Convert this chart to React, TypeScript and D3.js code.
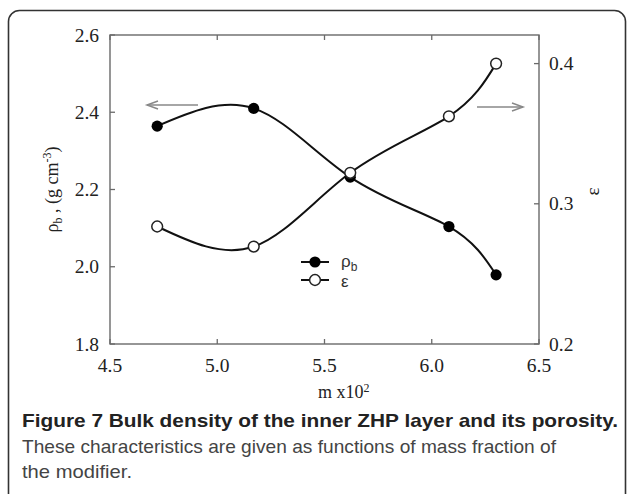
import React from "react";
import * as d3 from "d3";

const massFraction = [4.72, 5.17, 5.62, 6.08, 6.30];
const bulkDensity = [2.364, 2.41, 2.232, 2.104, 1.979];
const porosity = [0.2838, 0.2695, 0.3221, 0.3624, 0.4];
const xTicks = [4.5, 5.0, 5.5, 6.0, 6.5];
const yLeftTicks = [1.8, 2.0, 2.2, 2.4, 2.6];
const yRightTicks = [0.2, 0.3, 0.4];

const W = 629, H = 494;
const L = 110, R = 539, T = 35, B = 344;

export default function App() {
  const x = d3.scaleLinear().domain([4.5, 6.5]).range([L, R]);
  const yL = d3.scaleLinear().domain([1.8, 2.6]).range([B, T]);
  const yR = d3.scaleLinear().domain([0.2, 0.4204]).range([B, T]);

  const lineL = d3.line<number>().x((_, i) => x(massFraction[i])).y((d) => yL(d)).curve(d3.curveNatural);
  const lineR = d3.line<number>().x((_, i) => x(massFraction[i])).y((d) => yR(d)).curve(d3.curveNatural);

  const axisColor = "#6a6a6a";
  const tickLen = 5;
  const serif = "'Liberation Serif', 'Times New Roman', serif";
  const sans = "'Liberation Sans', Arial, sans-serif";
  const fmt = d3.format(".1f");

  return (
    <svg width={W} height={H} style={{ position: "absolute", left: 0, top: 0, background: "#fff" }}>
      <rect x={8.5} y={10.5} width={617} height={520} rx={11} fill="none" stroke="#333" strokeWidth={1.6} />

      {/* frame */}
      <rect x={L} y={T} width={R - L} height={B - T} fill="none" stroke={axisColor} strokeWidth={1.4} />

      {/* x ticks */}
      {xTicks.map((t) => (
        <g key={"x" + t}>
          <line x1={x(t)} x2={x(t)} y1={B} y2={B - tickLen} stroke={axisColor} strokeWidth={1.3} />
          <line x1={x(t)} x2={x(t)} y1={T} y2={T + tickLen} stroke={axisColor} strokeWidth={1.3} />
          <text x={x(t)} y={372} textAnchor="middle" fontFamily={serif} fontSize={19.5} fill="#222">
            {fmt(t)}
          </text>
        </g>
      ))}

      {/* left ticks */}
      {yLeftTicks.map((t) => (
        <g key={"yl" + t}>
          <line x1={L} x2={L + tickLen} y1={yL(t)} y2={yL(t)} stroke={axisColor} strokeWidth={1.3} />
          <text x={99} y={yL(t) + 6.5} textAnchor="end" fontFamily={serif} fontSize={19.5} fill="#222">
            {fmt(t)}
          </text>
        </g>
      ))}

      {/* right ticks */}
      {yRightTicks.map((t) => (
        <g key={"yr" + t}>
          <line x1={R} x2={R - tickLen} y1={yR(t)} y2={yR(t)} stroke={axisColor} strokeWidth={1.3} />
          <text x={549} y={yR(t) + 6.5} textAnchor="start" fontFamily={serif} fontSize={19.5} fill="#222">
            {fmt(t)}
          </text>
        </g>
      ))}

      {/* axis titles */}
      <text x={318} y={398} fontFamily={serif} fontSize={18} fill="#222">
        m x10<tspan dy={-6} fontSize={12}>2</tspan>
      </text>
      <text transform={`translate(58, ${(T + B) / 2}) rotate(-90)`} textAnchor="middle" fontFamily={serif} fontSize={18} fill="#222">
        ρ<tspan dy={4} fontSize={12}>b</tspan>
        <tspan dy={-4}> , (g cm</tspan>
        <tspan dy={-7} fontSize={12}>-3</tspan>
        <tspan dy={7}>)</tspan>
      </text>
      <text transform={`translate(599, ${(T + B) / 2 + 2}) rotate(-90)`} textAnchor="middle" fontFamily={serif} fontSize={19} fill="#222">
        ε
      </text>

      {/* direction arrows */}
      <g stroke="#888" strokeWidth={1.5} fill="none">
        <line x1={198} x2={147} y1={105} y2={105} />
        <polyline points="158,101 147,105 158,109" />
        <line x1={477} x2={523} y1={107} y2={107} />
        <polyline points="512,103 523,107 512,111" />
      </g>

      {/* curves */}
      <path d={lineL(bulkDensity) || ""} fill="none" stroke="#111" strokeWidth={2} />
      <path d={lineR(porosity) || ""} fill="none" stroke="#111" strokeWidth={2} />

      {bulkDensity.map((v, i) => (
        <circle key={"b" + i} cx={x(massFraction[i])} cy={yL(v)} r={5.6} fill="#000" />
      ))}
      {porosity.map((v, i) => (
        <circle key={"p" + i} cx={x(massFraction[i])} cy={yR(v)} r={5.4} fill="#fff" stroke="#222" strokeWidth={1.5} />
      ))}

      {/* legend */}
      <line x1={301} x2={329} y1={262} y2={262} stroke="#111" strokeWidth={2} />
      <circle cx={315} cy={262} r={5.6} fill="#000" />
      <text x={341} y={267} fontFamily={sans} fontSize={17} fill="#333">
        ρ<tspan dy={4} fontSize={12}>b</tspan>
      </text>
      <line x1={301} x2={329} y1={280} y2={280} stroke="#111" strokeWidth={2} />
      <circle cx={315} cy={280} r={5.4} fill="#fff" stroke="#222" strokeWidth={1.5} />
      <text x={341} y={287} fontFamily={sans} fontSize={17} fill="#333">
        ε
      </text>

      {/* caption */}
      <text x={22} y={427} fontFamily={sans} fontSize={19} fontWeight="bold" fill="#222" textLength={596} lengthAdjust="spacingAndGlyphs">
        Figure 7 Bulk density of the inner ZHP layer and its porosity.
      </text>
      <text x={22} y={453} fontFamily={sans} fontSize={19} fill="#444" textLength={534} lengthAdjust="spacingAndGlyphs">
        These characteristics are given as functions of mass fraction of
      </text>
      <text x={22} y={478} fontFamily={sans} fontSize={19} fill="#444" textLength={110} lengthAdjust="spacingAndGlyphs">
        the modifier.
      </text>
    </svg>
  );
}
